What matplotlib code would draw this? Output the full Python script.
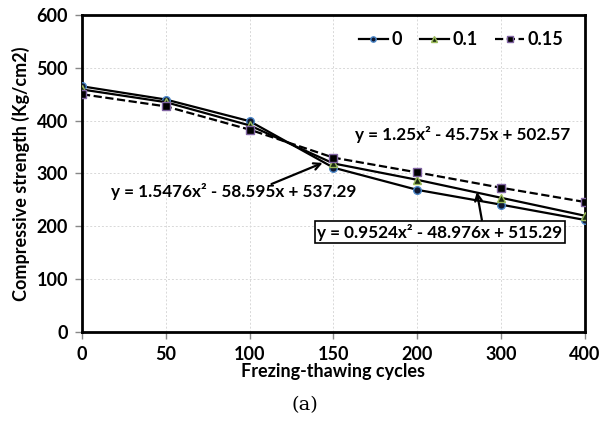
import numpy as np
import matplotlib
matplotlib.use("Agg")
import matplotlib.pyplot as plt

plt.rcParams['font.family'] = ['Lato', 'DejaVu Sans']

# freeze-thaw cycles (plotted as equally spaced categories)
cycles = ['0', '50', '100', '150', '200', '300', '400']
s0 = [465, 440, 399, 311, 269, 241, 212]
s01 = [459, 435, 391, 319, 288, 254, 220]
s015 = [450, 427, 383, 330, 302, 273, 246]
labels = ['0', '0.1', '0.15']

x = np.arange(len(cycles))

fig = plt.figure(figsize=(6.01, 4.21), dpi=100)
ax = fig.add_axes([0.1364, 0.2114, 0.8370, 0.7530])

ax.plot(x, s0, '-', color='black', lw=1.6, marker='o', ms=5.5,
        mfc='#101830', mec='#4a86c8', mew=1.0, label=labels[0], zorder=3)
ax.plot(x, s01, '-', color='black', lw=1.6, marker='^', ms=5.5,
        mfc='#1a2a10', mec='#9bbb59', mew=1.0, label=labels[1], zorder=3)
ax.plot(x, s015, '--', color='black', lw=1.6, marker='s', ms=5.5,
        mfc='black', mec='#8064a2', mew=1.0, label=labels[2], zorder=3)

ax.set_xlim(0, len(cycles) - 1)
ax.set_ylim(0, 600)
ax.set_xticks(x)
ax.set_xticklabels(cycles)
ax.set_yticks(range(0, 601, 100))
ax.grid(True, color='#d8d8d8', ls=(0, (2, 2)), lw=0.7)
ax.set_axisbelow(True)

for sp in ax.spines.values():
    sp.set_linewidth(2.0)
    sp.set_color('black')
ax.tick_params(axis='both', length=5, width=1, color='#888888',
               labelsize=13, pad=5)
for t in ax.get_xticklabels() + ax.get_yticklabels():
    t.set_fontweight('bold')

ax.set_xlabel('Frezing-thawing cycles', fontsize=13, fontweight='bold',
              labelpad=0)
ax.set_ylabel('Compressive strength (Kg/cm2)', fontsize=13,
              fontweight='bold', labelpad=5)

leg = ax.legend(loc='upper right', ncol=3, frameon=False,
                prop={'weight': 'bold', 'size': 13}, handlelength=1.6,
                handletextpad=0.2, columnspacing=1.0, markerscale=0.7,
                bbox_to_anchor=(0.99, 1.0))

arrow = dict(arrowstyle='->', color='black', lw=1.6, mutation_scale=12,
             shrinkA=0, shrinkB=0)

eq_size = 12.3
ax.annotate('', xy=(2.87, 320), xytext=(2.26, 280), arrowprops=arrow)
ax.text(1.81, 266, 'y = 1.5476x² - 58.595x + 537.29', ha='center',
        va='center', fontsize=eq_size, fontweight='bold')

ax.text(4.54, 373, 'y = 1.25x² - 45.75x + 502.57', ha='center',
        va='center', fontsize=eq_size, fontweight='bold')

ax.annotate('', xy=(4.71, 265), xytext=(4.77, 212), arrowprops=arrow)
ax.text(4.27, 189, 'y = 0.9524x² - 48.976x + 515.29', ha='center',
        va='center', fontsize=eq_size, fontweight='bold',
        bbox=dict(boxstyle='square,pad=0.15', fc='white', ec='black', lw=1.2))

fig.text(0.508, 0.038, '(a)', ha='center', va='center', fontsize=14,
         family='DejaVu Serif')

fig.savefig('out.png', dpi=100)
